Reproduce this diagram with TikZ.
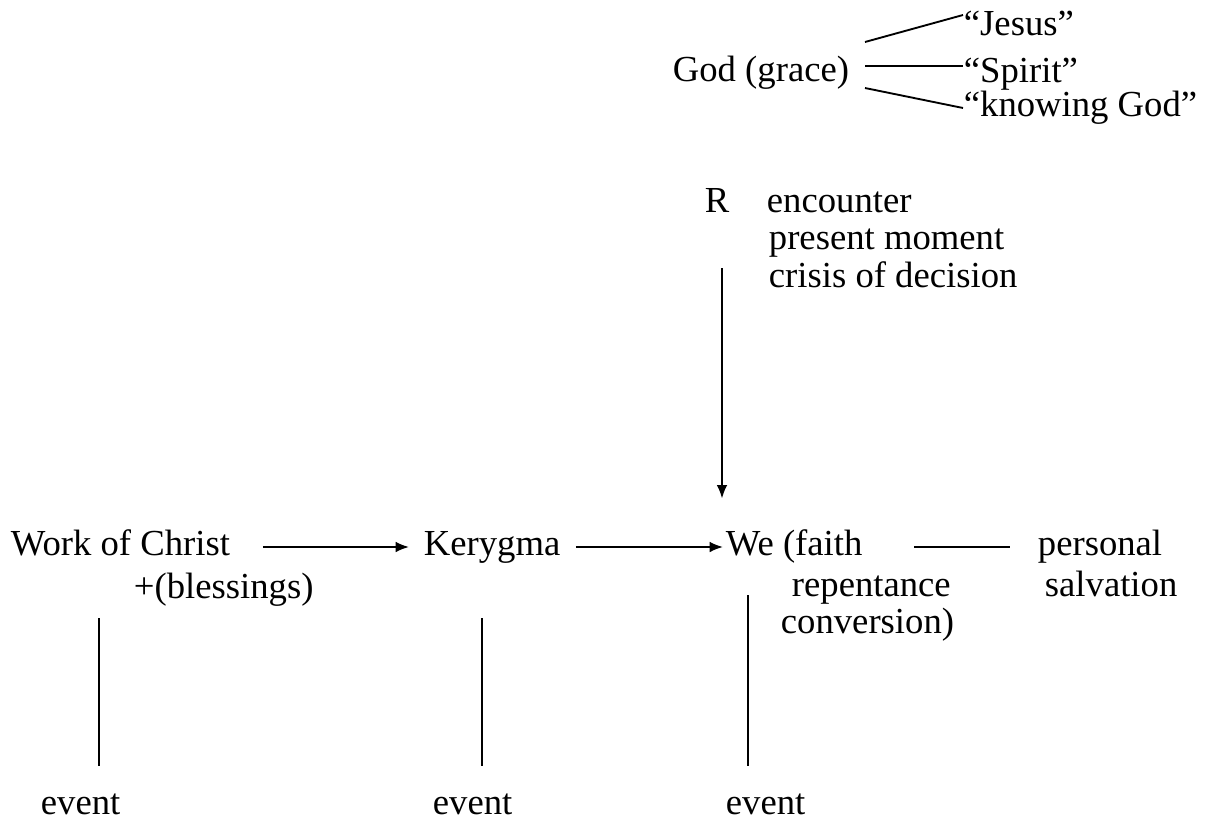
\documentclass[tikz,border=0pt]{standalone}
\usepackage{fontspec}
\setmainfont{Liberation Serif}
\usetikzlibrary{arrows.meta,calc}
\tikzset{lbl/.style={anchor=base west, inner sep=0pt, text height=19pt, text depth=7pt, font=\fontsize{27.5}{33}\selectfont}}
\begin{document}
\begin{tikzpicture}[>={Latex[length=10pt,width=8pt]}, x=.75pt, y=-.75pt, line width=1.4pt]
\useasboundingbox (0,0) rectangle (1210,821);
% God and the three names
\node[lbl] (god) at (672,81) {God (grace)};
\node[lbl] (jesus) at (963,35) {“Jesus”};
\node[lbl] (spirit) at (963,82) {“Spirit”};
\node[lbl] (knowing) at (963,116) {“knowing God”};
\coordinate (fj) at (865,42);
\coordinate (fs) at (865,66);
\coordinate (fk) at (865,88);
\draw (fj)--($(jesus.west)+(0,-12)$);
\draw (fs)--(fs -| spirit.west);
\draw (fk)--(knowing.west);
% R block
\node[lbl] (r) at (704,212) {R};
\node[lbl] (encounter) at (766,212) {encounter};
\node[lbl] (present) at (768,249) {present moment};
\node[lbl] (crisis) at (768,287) {crisis of decision};
% main row
\node[lbl] (work) at (10,555) {Work of Christ};
\node[lbl] (blessings) at (133,598) {+(blessings)};
\node[lbl] (kerygma) at (423,555) {Kerygma};
\node[lbl] (we) at (725,555) {We (faith};
\node[lbl] (repentance) at (791,596) {repentance};
\node[lbl] (conversion) at (780,633) {conversion)};
\node[lbl] (personal) at (1037,555) {personal};
\node[lbl] (salvation) at (1044,596) {salvation};
\coordinate (rtail) at (722,268);
\draw[->, shorten >=22.7pt] (rtail)--(rtail |- we.north);
\draw[->, shorten <=24pt, shorten >=10.5pt] (work.east)--(kerygma.west);
\draw[->, shorten <=11pt, shorten >=1.5pt] (kerygma.east)--(we.west);
\draw[shorten <=38pt, shorten >=20pt] (we.east)--(personal.west);
% events
\node[lbl] (event1) at (40,814) {event};
\node[lbl] (event2) at (432,814) {event};
\node[lbl] (event3) at (725,814) {event};
\coordinate (c1) at (99,618);
\coordinate (c2) at (482,618);
\coordinate (c3) at (748,595);
\draw[shorten >=16pt] (c1)--(c1 |- event1.north);
\draw[shorten >=16pt] (c2)--(c2 |- event2.north);
\draw[shorten >=16pt] (c3)--(c3 |- event3.north);
\end{tikzpicture}
\end{document}
